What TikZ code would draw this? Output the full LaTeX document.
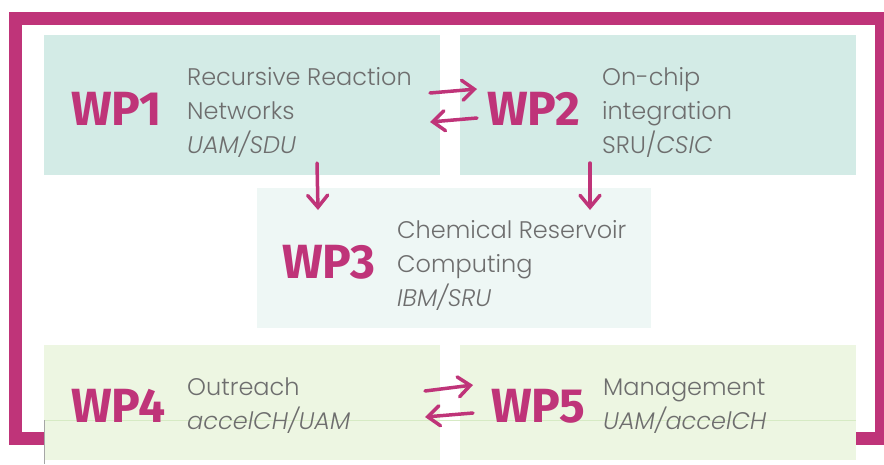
\documentclass[tikz,border=0pt]{standalone}
\usepackage{fontspec}
\setmainfont{Poppins}[UprightFont=* Light, ItalicFont=* Light Italic]
\newfontfamily\wpfont{Fira Sans}
\usetikzlibrary{arrows.meta}
\definecolor{mag}{HTML}{BF3479}
\definecolor{tealbox}{HTML}{D3EBE6}
\definecolor{palebox}{HTML}{EEF7F5}
\definecolor{greenbox}{HTML}{EDF6E2}
\definecolor{greenline}{HTML}{D6EAC4}
\definecolor{txtgray}{HTML}{6E6E6E}
\tikzset{
  wpbox/.style={draw=none, minimum width=396pt, minimum height=140pt, anchor=north west, inner sep=0pt},
  wplab/.style={anchor=base west, inner sep=0pt, text=mag, font=\wpfont\bfseries\fontsize{48}{52}\selectfont},
  desc/.style={anchor=base west, inner sep=0pt, text=txtgray, align=left, font=\fontsize{24}{34}\selectfont},
  flow/.style={draw=mag, line width=3.5pt, line cap=round, -{Straight Barb[length=12pt,width=20pt,line cap=round]}},
}
\begin{document}
\begin{tikzpicture}[x=1pt,y=-1pt]
\useasboundingbox (0,0) rectangle (884,464);
% frame
\draw[mag, line width=13pt] (15,18) rectangle (881.5,438.5);
\fill[white] (44,420) rectangle (856,464);
% boxes
\node[wpbox, fill=tealbox] (b1) at (44,35) {};
\node[wpbox, fill=tealbox] (b2) at (460,35) {};
\node[wpbox, fill=palebox, minimum width=394pt] (b3) at (257,188) {};
\node[wpbox, fill=greenbox, minimum height=115pt] (b4) at (44,345) {};
\node[wpbox, fill=greenbox, minimum height=115pt] (b5) at (460,345) {};
\draw[greenline, line width=1pt] (44,420) -- (856,420);
\draw[gray!70, line width=0.8pt] (44,420) -- (44,464);
% labels
\node[wplab] (l1) at (71,125) {WP1};
\node[wplab] (l2) at (487,125) {WP2};
\node[wplab] (l3) at (282,278) {WP3};
\node[wplab] (l4) at (71,422) {WP4};
\node[wplab] (l5) at (491,422) {WP5};
\node[desc] (d1) at (187,153) {Recursive Reaction\\Networks\\\textit{UAM/SDU}};
\node[desc] (d2) at (602,153) {On-chip\\integration\\SRU/\textit{CSIC}};
\node[desc] (d3) at (397,306) {Chemical Reservoir\\Computing\\\textit{IBM/SRU}};
\node[desc] (d4) at (187,429) {Outreach\\\textit{accelCH/UAM}};
\node[desc] (d5) at (603,429) {Management\\\textit{UAM/accelCH}};
% arrow coordinates
\coordinate (a12s) at (430,93);
\coordinate (a12e) at (477,89);
\coordinate (a21s) at (477,118);
\coordinate (a21e) at (430,122);
\coordinate (a13s) at (317,163);
\coordinate (a13e) at (318,210);
\coordinate (a23s) at (590,163);
\coordinate (a23e) at (590,210);
\coordinate (a45s) at (425,391);
\coordinate (a45e) at (473,385);
\coordinate (a54s) at (473,413);
\coordinate (a54e) at (425,417);
\draw[flow] (a12s) -- (a12e);
\draw[flow] (a21s) -- (a21e);
\draw[flow] (a13s) -- (a13e);
\draw[flow] (a23s) -- (a23e);
\draw[flow] (a45s) -- (a45e);
\draw[flow] (a54s) -- (a54e);
\end{tikzpicture}
\end{document}
